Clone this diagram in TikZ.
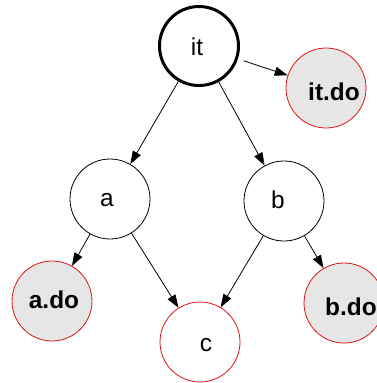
\documentclass[tikz,border=0pt]{standalone}
\usepackage{fontspec}
\setmainfont{Liberation Sans}
\usetikzlibrary{arrows.meta}
\definecolor{nodered}{RGB}{220,20,20}
\definecolor{nodegray}{RGB}{230,230,230}
\tikzset{
  x=1bp, y=-1bp,
  vertex/.style={circle, draw=black, line width=0.8bp, minimum size=80bp, inner sep=0pt},
  root/.style={vertex, line width=3bp, minimum size=79bp},
  target/.style={vertex, draw=nodered},
  action/.style={vertex, draw=nodered, fill=nodegray},
  plaintext/.style={inner sep=0pt, font=\fontsize{24.5}{24.5}\selectfont},
  boldtext/.style={inner sep=0pt, font=\fontsize{24.5}{24.5}\selectfont\bfseries},
  link/.style={line width=0.8bp, -{Triangle[length=13bp,width=9bp]}},
}
\begin{document}
\begin{tikzpicture}
\useasboundingbox (0,0) rectangle (377,383);
\clip (0,0) rectangle (377,383);
\node[root] (it) at (199,46) {};
\node[plaintext] (itt) at (197,47) {it};
\node[action] (itdo) at (326,88) {};
\node[boldtext] (itdot) at (334,92) {it.do};
\node[vertex] (a) at (110,199) {};
\node[plaintext] (at) at (107,200) {a};
\node[vertex] (b) at (284,201) {};
\node[plaintext] (bt) at (278,200) {b};
\node[action] (ado) at (52,301) {};
\node[boldtext] (adot) at (54,300) {a.do};
\node[target] (c) at (200,342) {};
\node[plaintext] (ct) at (206,345) {c};
\node[action] (bdo) at (344,303) {};
\node[boldtext] (bdot) at (351,307) {b.do};
\draw[link, shorten <=6bp] (it) -- (itdo);
\draw[link] (it) -- (a);
\draw[link] (it) -- (b);
\draw[link] (a) -- (ado);
\draw[link] (a) -- (c);
\draw[link] (b) -- (c);
\draw[link] (b) -- (bdo);
\end{tikzpicture}
\end{document}
